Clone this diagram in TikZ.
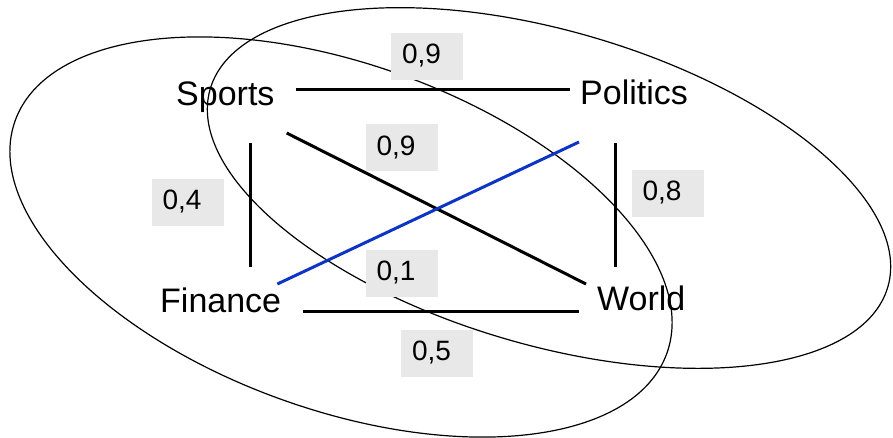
\documentclass[tikz,border=0pt]{standalone}
\usepackage{fontspec}
\setmainfont{Liberation Sans}
\usepackage{tikz}
\usetikzlibrary{
  calc
}
\definecolor{linkblue}{RGB}{14,52,196}
\definecolor{labelgray}{RGB}{232,232,232}
\tikzset{
  topicnode/.style={inner sep=0pt, anchor=base west,
    font=\fontsize{34}{40}\selectfont},
  weightbox/.style={fill=labelgray, inner xsep=11pt, inner ysep=0pt,
    text width=50pt, minimum height=47pt, align=left,
    font=\fontsize{28}{32}\selectfont},
  link/.style={line width=3pt},
  bluelink/.style={line width=3pt, linkblue},
  cluster/.style={line width=1.2pt},
}

\begin{document}
\begin{tikzpicture}[x=1pt, y=-1pt]
  \useasboundingbox (0,0) rectangle (893,437);

  % Clusters
  \draw[cluster, rotate around={-19.6:(341,237)}]
    (341,237) ellipse [x radius=346, y radius=173];
  \draw[cluster, rotate around={-16.3:(549,188)}]
    (549,188) ellipse [x radius=353, y radius=157];

  % Weights
  \node[weightbox] (wsp) at (427,56)  {0,9};
  \node[weightbox] (wsw) at (401.5,147.5) {0,9};
  \node[weightbox] (wsf) at (187.5,202) {0,4};
  \node[weightbox] (wpw) at (667.5,193) {0,8};
  \node[weightbox] (wfp) at (401.5,273) {0,1};
  \node[weightbox] (wfw) at (437,353) {0,5};

  % Topics
  \node[topicnode] (sports)   at (176,105) {Sports};
  \node[topicnode] (politics) at (580,104) {Politics};
  \node[topicnode] (finance)  at (160,312) {Finance};
  \node[topicnode] (world)    at (597,310) {World};

  % Links
  \draw[link] ([shift={(21,-16)}]sports.base east)
    -- ([shift={(-10,-15)}]politics.base west);
  \draw[link] ([shift={(12,28)}]sports.base east)
    -- ([shift={(-11,-26)}]world.base west);
  \draw[link] ([shift={(74,38)}]sports.base west)
    -- ([shift={(90,-45)}]finance.base west);
  \draw[link] ([shift={(35,39)}]politics.base west)
    -- ([shift={(18,-43)}]world.base west);
  \draw[link] ([shift={(22,-1)}]finance.base east)
    -- ([shift={(-18,1)}]world.base west);
  \draw[bluelink] ([shift={(-4,-28)}]finance.base east)
    -- ([shift={(-1,38)}]politics.base west);
\end{tikzpicture}
\end{document}
